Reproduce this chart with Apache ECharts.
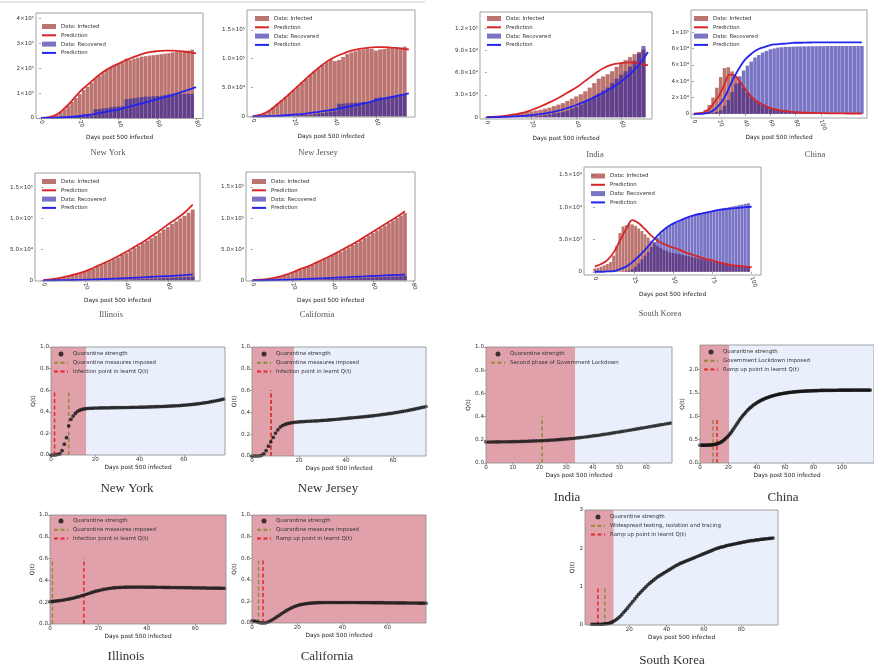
<!DOCTYPE html>
<html>
<head>
<meta charset="utf-8">
<script src="https://cdn.jsdelivr.net/npm/echarts@6/dist/echarts.min.js"></script>
<style>
html, body { margin: 0; background: #fff; }
#chart { width: 874px; height: 670px; }
</style>
</head>
<body>
<div id="chart"></div>
<script>
// ---- case data (thousands of people), bars every barStep days, predictions every predStep days ----
const predStep = 4

const nyInfected = [0.5, 2, 4, 8, 15, 24, 35, 50, 65, 80, 96, 112, 125, 142, 160, 170, 182, 192, 203, 212, 216, 222, 238, 232, 238, 242, 246, 248, 250, 252, 254, 256, 258, 260, 263, 265, 266, 268, 270, 274]
const nyRecovered = [0, 0, 0, 0, 0.5, 1, 1.5, 2, 3, 4, 5, 6, 8, 10, 35, 36, 38, 40, 43, 45, 46, 47, 75, 77, 80, 82, 84, 86, 86, 87, 88, 89, 92, 95, 96, 96, 97, 97, 97, 97]
const nyPredInfected = [0.5, 3, 14, 38, 70, 105, 133, 160, 184, 203, 218, 232, 245, 256, 264, 268, 270, 270, 268, 264, 259]
const nyPredRecovered = [0, 0.4, 1.5, 3, 5, 8, 12, 17, 23, 29, 35, 43, 51, 59, 67, 76, 84, 93, 103, 113, 124]

const njInfected = [0.5, 1, 2, 5, 10, 16, 22, 28, 34, 40, 46, 52, 59, 65, 72, 78, 83, 89, 94, 99, 96, 98, 103, 108, 111, 113, 115, 116, 117, 117, 114, 116, 117, 118, 118, 118, 119, 121]
const njRecovered = [0, 0, 0, 0, 0, 0, 0.2, 0.3, 0.5, 0.8, 1, 1.5, 2, 2.5, 3, 4, 5, 6, 7, 8, 9, 22, 22, 23, 23, 24, 24, 25, 25, 26, 32, 33, 33, 34, 35, 36, 37, 38]
const njPredInfected = [0.5, 3, 10, 21, 33, 46, 59, 72, 84, 95, 103, 109, 114, 117, 119, 120, 120, 119, 118, 116]
const njPredRecovered = [0, 0.2, 0.5, 1, 2, 3, 4, 6, 8, 10, 12, 15, 18, 21, 24, 28, 31, 34, 37, 40]

const ilInfected = [0.3, 0.8, 1.5, 2.5, 3.5, 5, 6.5, 8, 10, 12, 14, 16.5, 19, 22, 25, 28, 31, 34, 37, 41, 44, 48, 52, 56, 60, 64, 68, 72, 77, 82, 86, 91, 95, 100, 104, 109, 114]
const ilRecovered = [0, 0, 0, 0, 0, 0, 0.1, 0.1, 0.2, 0.2, 0.3, 0.3, 0.4, 0.5, 0.6, 0.7, 0.8, 0.9, 1, 1.2, 1.4, 1.6, 1.8, 2, 2.2, 2.5, 2.8, 3, 3.3, 3.6, 4, 4.3, 4.6, 5, 5.3, 5.6, 6]
const ilPredInfected = [0.3, 1.8, 4, 7, 10.5, 14.5, 20, 26, 32, 39, 46, 54, 62, 71, 80, 90, 99, 109, 122]
const ilPredRecovered = [0, 0.1, 0.3, 0.5, 0.8, 1.1, 1.5, 2, 2.5, 3, 3.6, 4.2, 4.9, 5.6, 6.3, 7, 7.8, 8.6, 9.5]

const caInfected = [0.3, 0.6, 1, 1.6, 2.4, 3.3, 4.5, 6, 8, 10, 12.5, 15, 17.5, 20, 22.5, 25, 28, 31, 34, 37, 40, 43, 46, 50, 53, 57, 60, 64, 68, 72, 76, 80, 84, 88, 92, 96, 100, 104, 108]
const caRecovered = [0, 0, 0, 0, 0, 0, 0.1, 0.1, 0.2, 0.3, 0.4, 0.5, 0.6, 0.7, 0.8, 1, 1.2, 1.4, 1.6, 1.8, 2, 2.2, 2.4, 2.6, 2.8, 3, 3.3, 3.6, 3.9, 4.2, 4.5, 4.8, 5.1, 5.4, 5.7, 6, 6.3, 6.6, 7]
const caPredInfected = [0.3, 1, 2.5, 5, 8.5, 13, 18.5, 23, 29, 35, 41, 48, 55, 62, 70, 78, 86, 94, 102, 111]
const caPredRecovered = [0, 0.1, 0.3, 0.6, 1, 1.4, 1.9, 2.4, 2.9, 3.4, 4, 4.6, 5.2, 5.8, 6.4, 7, 7.6, 8.2, 8.8, 9.4]

const indiaInfected = [0.5, 0.8, 1.2, 1.6, 2.2, 3, 4, 5, 6, 7, 8, 9, 10, 11.5, 13, 15, 17, 19, 22, 25, 28, 31, 35, 40, 46, 52, 55, 58, 62, 68, 73, 77, 81, 85, 88, 91]
const indiaRecovered = [0, 0, 0, 0, 0.1, 0.2, 0.3, 0.5, 0.7, 0.9, 1.1, 1.5, 2, 2.8, 3.8, 5, 6, 7.5, 9, 11.5, 14, 17, 21, 25, 28, 32, 36, 40, 46, 52, 57, 62, 68, 76, 86, 96]
const indiaPredInfected = [0.5, 1, 2, 3.8, 6, 9.8, 14.5, 20, 26, 33, 40, 49, 58, 66, 71, 73, 74, 72.5, 70]
const indiaPredRecovered = [0, 0.2, 0.6, 1.1, 1.8, 2.8, 4.2, 6.2, 9, 12.5, 16.5, 21.5, 27, 33, 40, 48, 58, 71, 88]

const chinaInfected = [0.5, 1.2, 2.5, 5, 11, 20, 32, 45, 56, 57, 52, 45, 38, 32, 26, 21, 17, 14, 11, 9, 7.5, 6.5, 5.5, 4.5, 4, 3.5, 3, 2.5, 2, 1.5, 1.2, 1, 0.9, 0.8, 0.7, 0.6, 0.5, 0.4, 0.3, 0.3, 0.2, 0.2, 0.2, 0.1, 0.1]
const chinaRecovered = [0, 0, 0.1, 0.3, 0.6, 1.2, 2.5, 4.5, 10, 17, 27, 37, 46, 53, 59, 64, 69, 72, 75, 77, 79, 80, 81, 81.5, 82, 82, 82.2, 82.4, 82.5, 82.6, 82.7, 82.8, 82.8, 82.9, 82.9, 83, 83, 83, 83, 83, 83, 83, 83, 83, 83]
const chinaPredInfected = [0.3, 0.8, 2, 6, 14, 23, 36, 48, 47, 40, 31, 23, 17, 13, 10, 7, 5.5, 4.3, 3.3, 2.6, 2.1, 1.7, 1.4, 1.2, 1, 0.9, 0.8, 0.7, 0.6, 0.6, 0.5, 0.5, 0.5, 0.5]
const chinaPredRecovered = [0, 0.1, 0.4, 1.5, 5, 11, 20, 33, 46, 57, 66, 72, 77, 80, 82, 84, 85, 85.5, 86, 86.5, 87, 87, 87.2, 87.3, 87.4, 87.4, 87.5, 87.5, 87.5, 87.5, 87.5, 87.5, 87.5, 87.5]

const skInfected = [0.5, 0.6, 0.8, 1, 1.2, 1.5, 2.5, 4, 6, 7, 7.2, 7.4, 7.3, 7.1, 6.7, 6.3, 5.8, 5.3, 4.8, 4.4, 4, 3.7, 3.4, 3.2, 3, 2.9, 2.8, 2.7, 2.6, 2.5, 2.4, 2.3, 2.2, 2.1, 2, 1.9, 1.8, 1.7, 1.6, 1.5, 1.4, 1.3, 1.2, 1.1, 1.1, 1, 1, 0.9, 0.9, 0.8]
const skRecovered = [0, 0, 0, 0, 0, 0, 0, 0, 0, 0.02, 0.1, 0.2, 0.4, 0.8, 1.3, 1.9, 2.5, 3.1, 3.8, 4.6, 5.3, 5.9, 6.4, 6.8, 7.1, 7.4, 7.6, 7.8, 8, 8.2, 8.4, 8.6, 8.8, 8.9, 9.1, 9.2, 9.3, 9.4, 9.5, 9.6, 9.7, 9.8, 9.9, 10, 10.1, 10.2, 10.3, 10.4, 10.5, 10.6]
const skPredInfected = [0.8, 1.2, 1.8, 3, 4.8, 6.6, 8, 7.5, 6.6, 5.6, 4.8, 4.3, 3.9, 3.6, 3.2, 2.8, 2.5, 2.2, 1.9, 1.7, 1.4, 1.2, 1, 0.9, 0.8, 0.7]
const skPredRecovered = [0, 0, 0.05, 0.1, 0.4, 0.8, 1.5, 2.4, 3.4, 4.5, 5.6, 6.5, 7.2, 7.7, 8.1, 8.5, 8.8, 9, 9.2, 9.4, 9.6, 9.7, 9.8, 9.9, 10, 10.05]

// tick values / labels of the case panels
const ticks20to80 = [0, 20, 40, 60, 80]
const ticks20to60 = [0, 20, 40, 60]
const chinaXTicks = [0, 20, 40, 60, 80, 100]
const skXTicks = [0, 25, 50, 75, 100]
const nyYTicks = [0, 100, 200, 300, 400]
const nyYLabels = ['0', '1×10⁵', '2×10⁵', '3×10⁵', '4×10⁵']
const usYTicks = [0, 50, 100, 150]
const usYLabels = ['0', '5.0×10⁴', '1.0×10⁵', '1.5×10⁵']
const indiaYTicks = [0, 30, 60, 90, 120]
const indiaYLabels = ['0', '3.0×10⁴', '6.0×10⁴', '9.0×10⁴', '1.2×10⁵']
const chinaYTicks = [0, 20, 40, 60, 80, 100]
const chinaYLabels = ['0', '2×10⁴', '4×10⁴', '6×10⁴', '8×10⁴', '1×10⁵']
const skYTicks = [0, 5, 10, 15]
const skYLabels = ['0', '5.0×10³', '1.0×10⁴', '1.5×10⁴']

// ---- learnt quarantine strength Q(t), one value per day ----
const nyQ = [0, 0, 0, 0.005, 0.01, 0.04, 0.1, 0.16, 0.27, 0.33,
  0.36, 0.385, 0.405, 0.415, 0.422, 0.427, 0.43, 0.432, 0.433, 0.434,
  0.435, 0.435, 0.436, 0.436, 0.437, 0.437, 0.437, 0.438, 0.438, 0.438,
  0.439, 0.439, 0.439, 0.44, 0.44, 0.44, 0.441, 0.441, 0.442, 0.442,
  0.443, 0.443, 0.444, 0.444, 0.445, 0.445, 0.446, 0.447, 0.447, 0.448,
  0.449, 0.45, 0.451, 0.452, 0.453, 0.454, 0.455, 0.456, 0.458, 0.459,
  0.461, 0.463, 0.465, 0.467, 0.469, 0.471, 0.474, 0.476, 0.479, 0.482,
  0.485, 0.488, 0.492, 0.496, 0.5, 0.504, 0.508, 0.513, 0.518]
const njQ = [0, 0, 0, 0, 0.005, 0.02, 0.05, 0.09, 0.13, 0.17,
  0.21, 0.24, 0.265, 0.28, 0.29, 0.297, 0.302, 0.306, 0.309, 0.311,
  0.313, 0.315, 0.316, 0.318, 0.319, 0.32, 0.321, 0.322, 0.323, 0.325,
  0.326, 0.328, 0.329, 0.331, 0.333, 0.335, 0.337, 0.339, 0.341, 0.343,
  0.345, 0.347, 0.349, 0.351, 0.353, 0.355, 0.357, 0.359, 0.361, 0.363,
  0.366, 0.368, 0.371, 0.374, 0.376, 0.379, 0.382, 0.385, 0.388, 0.391,
  0.394, 0.398, 0.401, 0.405, 0.409, 0.413, 0.417, 0.421, 0.425, 0.43,
  0.434, 0.439, 0.444, 0.449, 0.454]
const ilQ = [0.205, 0.207, 0.209, 0.212, 0.215, 0.218, 0.222, 0.226, 0.23, 0.235,
  0.24, 0.246, 0.252, 0.259, 0.266, 0.273, 0.28, 0.287, 0.294, 0.301,
  0.307, 0.312, 0.317, 0.321, 0.325, 0.328, 0.331, 0.333, 0.335, 0.336,
  0.337, 0.338, 0.338, 0.339, 0.339, 0.339, 0.339, 0.339, 0.339, 0.339,
  0.338, 0.338, 0.338, 0.338, 0.337, 0.337, 0.337, 0.336, 0.336, 0.336,
  0.335, 0.335, 0.335, 0.334, 0.334, 0.334, 0.333, 0.333, 0.333, 0.332,
  0.332, 0.332, 0.331, 0.331, 0.331, 0.33, 0.33, 0.33, 0.329, 0.329,
  0.329, 0.328, 0.328]
const caQ = [0.02, 0.018, 0.012, 0.005, 0.001, 0, 0.002, 0.008, 0.018, 0.03,
  0.043, 0.057, 0.071, 0.085, 0.099, 0.112, 0.124, 0.135, 0.145, 0.154,
  0.161, 0.167, 0.172, 0.176, 0.179, 0.182, 0.184, 0.186, 0.187, 0.188,
  0.189, 0.189, 0.19, 0.19, 0.19, 0.19, 0.19, 0.19, 0.19, 0.19,
  0.19, 0.19, 0.19, 0.19, 0.19, 0.19, 0.19, 0.189, 0.189, 0.189,
  0.189, 0.189, 0.189, 0.188, 0.188, 0.188, 0.188, 0.188, 0.188, 0.187,
  0.187, 0.187, 0.187, 0.187, 0.186, 0.186, 0.186, 0.186, 0.186, 0.185,
  0.185, 0.185, 0.185, 0.185, 0.184, 0.184, 0.184, 0.184]
const indiaQ = [0.181, 0.181, 0.181, 0.182, 0.182, 0.182, 0.183, 0.183, 0.183, 0.184,
  0.184, 0.185, 0.185, 0.186, 0.187, 0.187, 0.188, 0.189, 0.19, 0.191,
  0.192, 0.193, 0.194, 0.195, 0.197, 0.198, 0.2, 0.201, 0.203, 0.205,
  0.207, 0.209, 0.211, 0.213, 0.216, 0.218, 0.221, 0.224, 0.227, 0.23,
  0.233, 0.236, 0.239, 0.243, 0.246, 0.25, 0.253, 0.257, 0.261, 0.265,
  0.268, 0.272, 0.276, 0.28, 0.284, 0.288, 0.292, 0.296, 0.3, 0.304,
  0.308, 0.312, 0.316, 0.32, 0.324, 0.328, 0.332, 0.336, 0.34, 0.344]
const chinaQ = [0.38, 0.38, 0.38, 0.381, 0.381, 0.382, 0.383, 0.385, 0.387, 0.39,
  0.395, 0.402, 0.41, 0.42, 0.434, 0.45, 0.47, 0.495, 0.52, 0.55,
  0.58, 0.615, 0.655, 0.7, 0.745, 0.79, 0.835, 0.88, 0.925, 0.965,
  1.005, 1.04, 1.075, 1.11, 1.14, 1.17, 1.195, 1.22, 1.245, 1.265,
  1.285, 1.305, 1.32, 1.338, 1.352, 1.366, 1.38, 1.392, 1.403, 1.414,
  1.424, 1.433, 1.442, 1.45, 1.458, 1.465, 1.472, 1.478, 1.484, 1.489,
  1.494, 1.499, 1.503, 1.507, 1.511, 1.514, 1.517, 1.52, 1.523, 1.526,
  1.528, 1.53, 1.532, 1.534, 1.536, 1.538, 1.539, 1.541, 1.542, 1.543,
  1.544, 1.545, 1.546, 1.547, 1.548, 1.549, 1.549, 1.55, 1.551, 1.551,
  1.552, 1.552, 1.553, 1.553, 1.553, 1.554, 1.554, 1.554, 1.555, 1.555,
  1.555, 1.555, 1.556, 1.556, 1.556, 1.556, 1.556, 1.557, 1.557, 1.557,
  1.557, 1.557, 1.557, 1.557, 1.558, 1.558, 1.558, 1.558, 1.558, 1.558, 1.558]
const skQ = [0.02, 0.02, 0.02, 0.02, 0.02, 0.02, 0.025, 0.03, 0.035, 0.045,
  0.06, 0.08, 0.11, 0.14, 0.18, 0.22, 0.27, 0.33, 0.38, 0.44,
  0.5, 0.56, 0.62, 0.68, 0.74, 0.8, 0.85, 0.9, 0.95, 1.0,
  1.05, 1.09, 1.13, 1.17, 1.21, 1.25, 1.28, 1.31, 1.34, 1.37,
  1.4, 1.43, 1.46, 1.49, 1.52, 1.55, 1.57, 1.6, 1.62, 1.64,
  1.66, 1.68, 1.7, 1.72, 1.74, 1.76, 1.78, 1.8, 1.82, 1.84,
  1.86, 1.88, 1.9, 1.92, 1.94, 1.96, 1.98, 2.0, 2.01, 2.03,
  2.04, 2.05, 2.07, 2.08, 2.09, 2.1, 2.11, 2.12, 2.13, 2.14,
  2.15, 2.16, 2.17, 2.18, 2.19, 2.2, 2.2, 2.21, 2.22, 2.22,
  2.23, 2.24, 2.24, 2.25, 2.25, 2.26, 2.26, 2.27]

// days of the marked events and where the first (shaded) phase ends
const qMeasureDays = [8, 8.1, 1, 2.9, 21, 9.2, 6.9]
const qInflectionDays = [1.6, 8.1, 14, 4.9, null, 12, 3.2]
const qMarkTops = [0.6, 0.6, 0.6, 0.6, 0.4, 0.96, 1.0]
const qPhaseEnds = [16, 18, 80, 80, 33.3, 20.7, 11.7]
const qYTicks = [0, 0.2, 0.4, 0.6, 0.8, 1.0]
const qYLabels = ['0.0', '0.2', '0.4', '0.6', '0.8', '1.0']
const chinaQYTicks = [0, 0.5, 1, 1.5, 2]
const chinaQYLabels = ['0.0', '0.5', '1.0', '1.5', '2.0']
const skQYTicks = [0, 1, 2, 3]
const skQYLabels = ['0', '1', '2', '3']
const indiaQXTicks = [0, 10, 20, 30, 40, 50, 60]
const skQXTicks = [20, 40, 60, 80]

const dataPanels = [
    {title: 'New York', infected: nyInfected, recovered: nyRecovered, predI: nyPredInfected, predR: nyPredRecovered, barStep: 2, xTicks: ticks20to80, yTicks: nyYTicks, yLabels: nyYLabels},
    {title: 'New Jersey', infected: njInfected, recovered: njRecovered, predI: njPredInfected, predR: njPredRecovered, barStep: 2, xTicks: ticks20to60, yTicks: usYTicks, yLabels: usYLabels},
    {title: 'Illinois', infected: ilInfected, recovered: ilRecovered, predI: ilPredInfected, predR: ilPredRecovered, barStep: 2, xTicks: ticks20to60, yTicks: usYTicks, yLabels: usYLabels},
    {title: 'California', infected: caInfected, recovered: caRecovered, predI: caPredInfected, predR: caPredRecovered, barStep: 2, xTicks: ticks20to80, yTicks: usYTicks, yLabels: usYLabels},
    {title: 'India', infected: indiaInfected, recovered: indiaRecovered, predI: indiaPredInfected, predR: indiaPredRecovered, barStep: 2, xTicks: ticks20to60, yTicks: indiaYTicks, yLabels: indiaYLabels},
    {title: 'China', infected: chinaInfected, recovered: chinaRecovered, predI: chinaPredInfected, predR: chinaPredRecovered, barStep: 3, xTicks: chinaXTicks, yTicks: chinaYTicks, yLabels: chinaYLabels},
    {title: 'South Korea', infected: skInfected, recovered: skRecovered, predI: skPredInfected, predR: skPredRecovered, barStep: 2, xTicks: skXTicks, yTicks: skYTicks, yLabels: skYLabels}
]
const measureNames = ['Quarantine measures imposed', 'Quarantine measures imposed', 'Quarantine measures imposed', 'Quarantine measures imposed',
    'Second phase of Government Lockdown', 'Government Lockdown imposed', 'Widespread testing, isolation and tracing']
const pointNames = ['Infection point in learnt Q(t)', 'Infection point in learnt Q(t)', 'Infection point in learnt Q(t)', 'Ramp up point in learnt Q(t)',
    null, 'Ramp up point in learnt Q(t)', 'Ramp up point in learnt Q(t)']
const qPanels = [
    {title: 'New York', q: nyQ, xTicks: ticks20to60, yTicks: qYTicks, yLabels: qYLabels},
    {title: 'New Jersey', q: njQ, xTicks: ticks20to60, yTicks: qYTicks, yLabels: qYLabels},
    {title: 'Illinois', q: ilQ, xTicks: ticks20to60, yTicks: qYTicks, yLabels: qYLabels},
    {title: 'California', q: caQ, xTicks: ticks20to60, yTicks: qYTicks, yLabels: qYLabels},
    {title: 'India', q: indiaQ, xTicks: indiaQXTicks, yTicks: qYTicks, yLabels: qYLabels},
    {title: 'China', q: chinaQ, xTicks: chinaXTicks, yTicks: chinaQYTicks, yLabels: chinaQYLabels},
    {title: 'South Korea', q: skQ, xTicks: skQXTicks, yTicks: skQYTicks, yLabels: skQYLabels}
]

// ---- layout (pixels) and axis extents ----
const dataLayout = [
    {left: 36, top: 13, width: 167, height: 105.5, xMin: -2.6, xMax: 83.6, yMin: -2, yMax: 421, lgLeft: 41, lgTop: 23.5, tx: 108, ty: 153},
    {left: 247, top: 10, width: 168, height: 107, xMin: -2.8, xMax: 79, yMin: -1, yMax: 184.5, lgLeft: 254, lgTop: 15.5, tx: 318, ty: 153},
    {left: 35, top: 173, width: 165, height: 108, xMin: -4, xMax: 75.5, yMin: -1, yMax: 173, lgLeft: 41, lgTop: 178.5, tx: 111, ty: 315},
    {left: 246, top: 172, width: 169, height: 109, xMin: -3.3, xMax: 81, yMin: -1, yMax: 174, lgLeft: 251, lgTop: 178.5, tx: 317, ty: 315},
    {left: 480, top: 12, width: 172, height: 107, xMin: -3, xMax: 73.8, yMin: -2.3, yMax: 141.7, lgLeft: 486, lgTop: 15.5, tx: 595, ty: 155},
    {left: 691, top: 10, width: 176, height: 108, xMin: -2.3, xMax: 136, yMin: -5, yMax: 127, lgLeft: 693, lgTop: 15.5, tx: 815, ty: 155},
    {left: 584, top: 167, width: 177, height: 108, xMin: -6.9, xMax: 106, yMin: -0.5, yMax: 16.2, lgLeft: 590, lgTop: 173, tx: 660, ty: 314}
]
const qLayout = [
    {left: 51, top: 347, width: 174, height: 108, xMin: 0, xMax: 78.6, yMin: 0, yMax: 1, lgLeft: 53, lgTop: 351, tx: 127, ty: 489},
    {left: 252, top: 347, width: 174, height: 109, xMin: 0, xMax: 74, yMin: 0, yMax: 1, lgLeft: 256, lgTop: 351, tx: 328, ty: 489},
    {left: 50, top: 515, width: 176, height: 109, xMin: 0, xMax: 72.7, yMin: 0, yMax: 1, lgLeft: 53, lgTop: 518, tx: 126, ty: 657},
    {left: 252, top: 515, width: 174, height: 108, xMin: 0, xMax: 77, yMin: 0, yMax: 1, lgLeft: 256, lgTop: 518, tx: 327, ty: 657},
    {left: 486, top: 347, width: 186, height: 116, xMin: 0, xMax: 69.6, yMin: 0, yMax: 1, lgLeft: 490, lgTop: 351, tx: 567, ty: 498},
    {left: 700, top: 345, width: 178, height: 118, xMin: 0, xMax: 122.7, yMin: 0, yMax: 2.52, lgLeft: 703, lgTop: 349, tx: 783, ty: 498},
    {left: 585, top: 510, width: 193, height: 115, xMin: -3.7, xMax: 99.7, yMin: 0, yMax: 3, lgLeft: 590, lgTop: 514, tx: 672, ty: 661}
]

const sans = 'DejaVu Sans'
const serif = 'Liberation Serif'
const infectedBar = 'rgba(145,30,25,0.62)'
const recoveredBar = 'rgba(40,30,160,0.62)'
const redLine = '#d62728'
const blueLine = '#2424f0'
const shadeRed = '#e0a1ab'
const shadeBlue = '#e9f0fb'
const olive = '#8f8a3c'
const redDash = '#e8262c'

const grids = []
const xAxes = []
const yAxes = []
const series = []
const legends = []
const graphics = [
    {type: 'line', shape: {x1: 0, y1: 2, x2: 425, y2: 2}, style: {stroke: '#c8c8c8', lineWidth: 1}}
]
const tickText = {fontFamily: sans, fontSize: 5.6, color: '#333'}
const nameText = {fontFamily: sans, fontSize: 5.8, color: '#222'}
// legend entries for line series: hide the marker that echarts puts on the line icon
const noMarker = {color: 'transparent', opacity: 0, borderWidth: 0}

function addAxes (L, xTicks, yTicks, yLabels, opt) {
    const g = grids.length
    grids.push({left: L.left, top: L.top, width: L.width, height: L.height, show: true, z: 10,
        backgroundColor: 'transparent', borderColor: '#8a8a8a', borderWidth: 0.8})
    xAxes.push({
        type: 'value', gridIndex: g, min: L.xMin, max: L.xMax,
        axisLine: {show: false}, splitLine: {show: false},
        axisTick: {show: true, length: 2, customValues: xTicks, lineStyle: {color: '#666', width: 0.6}},
        axisLabel: Object.assign({customValues: xTicks, rotate: opt.rotate || 0, margin: 2}, tickText),
        name: 'Days post 500 infected', nameLocation: 'middle', nameGap: opt.nameGap, nameTextStyle: nameText
    })
    yAxes.push({
        type: 'value', gridIndex: g, min: L.yMin, max: L.yMax,
        axisLine: {show: false}, splitLine: {show: false},
        axisTick: {show: true, length: 2, customValues: yTicks, lineStyle: {color: '#666', width: 0.6}},
        axisLabel: Object.assign({customValues: yTicks, margin: 2, formatter: function (v) {
            const k = yTicks.indexOf(v)
            return k >= 0 ? yLabels[k] : ''
        }}, tickText),
        name: opt.yName || '', nameLocation: 'middle', nameGap: opt.yNameGap || 10, nameTextStyle: nameText
    })
    return g
}

function addTitle (L, text, size, color) {
    graphics.push({type: 'text', x: L.tx, y: L.ty, style: {text: text, fill: color,
        font: size + 'px "' + serif + '"', align: 'center', verticalAlign: 'middle'}})
}

const legendBase = {orient: 'vertical', itemWidth: 14, itemHeight: 5, itemGap: 2.8, padding: 0,
    selectedMode: false, textStyle: {fontFamily: sans, fontSize: 5.4, color: '#333', lineHeight: 6}}

// case panels: bars of data, smooth prediction lines
dataPanels.forEach(function (p, i) {
    const L = dataLayout[i]
    const g = addAxes(L, p.xTicks, p.yTicks, p.yLabels, {rotate: -70, nameGap: 16})
    const slot = p.barStep * L.width / (L.xMax - L.xMin)
    const bar = {type: 'bar', xAxisIndex: g, yAxisIndex: g, barWidth: slot - 0.3, barGap: '-100%', silent: true}
    series.push(Object.assign({}, bar, {name: 'Data: Infected', z: 2, itemStyle: {color: infectedBar},
        data: p.infected.map(function (v, k) { return [k * p.barStep, v] })}))
    series.push(Object.assign({}, bar, {name: 'Data: Recovered', z: 3, itemStyle: {color: recoveredBar},
        data: p.recovered.map(function (v, k) { return [k * p.barStep, v] })}))
    series.push({type: 'line', name: 'Prediction', xAxisIndex: g, yAxisIndex: g, smooth: 0.4, symbol: 'none', z: 4,
        lineStyle: {color: redLine, width: 1.8}, itemStyle: {color: redLine},
        data: p.predI.map(function (v, k) { return [k * predStep, v] })})
    series.push({type: 'line', name: 'Prediction ', xAxisIndex: g, yAxisIndex: g, smooth: 0.4, symbol: 'none', z: 4,
        lineStyle: {color: blueLine, width: 1.8}, itemStyle: {color: blueLine},
        data: p.predR.map(function (v, k) { return [k * predStep, v] })})
    legends.push(Object.assign({}, legendBase, {left: L.lgLeft, top: L.lgTop,
        data: [{name: 'Data: Infected', icon: 'rect'}, {name: 'Prediction', itemStyle: noMarker},
            {name: 'Data: Recovered', icon: 'rect'}, {name: 'Prediction ', itemStyle: noMarker}]}))
    addTitle(L, p.title, 8.5, '#555')
})

// quarantine strength panels
qPanels.forEach(function (p, i) {
    const L = qLayout[i]
    const g = addAxes(L, p.xTicks, p.yTicks, p.yLabels, {nameGap: 9, yName: 'Q(t)', yNameGap: 9})
    const end = Math.min(qPhaseEnds[i], L.xMax)
    const areas = [[{xAxis: L.xMin, itemStyle: {color: shadeRed}}, {xAxis: end}]]
    if (end < L.xMax) areas.push([{xAxis: end, itemStyle: {color: shadeBlue}}, {xAxis: L.xMax}])
    const legendData = [{name: 'Quarantine strength', icon: 'circle'}, {name: measureNames[i], itemStyle: noMarker}]
    series.push({type: 'line', name: measureNames[i], xAxisIndex: g, yAxisIndex: g, symbol: 'none', z: 3,
        lineStyle: {color: olive, width: 1.5, type: [4, 2.5]}, itemStyle: {color: olive},
        data: [[qMeasureDays[i], 0], [qMeasureDays[i], qMarkTops[i]]]})
    if (pointNames[i]) {
        series.push({type: 'line', name: pointNames[i], xAxisIndex: g, yAxisIndex: g, symbol: 'none', z: 4,
            lineStyle: {color: redDash, width: 1.5, type: [4, 2.5]}, itemStyle: {color: redDash},
            data: [[qInflectionDays[i], 0], [qInflectionDays[i], qMarkTops[i]]]})
        legendData.push({name: pointNames[i], itemStyle: noMarker})
    }
    series.push({type: 'scatter', name: 'Quarantine strength', xAxisIndex: g, yAxisIndex: g, symbolSize: 3.7, z: 5,
        itemStyle: {color: '#111'}, data: p.q.map(function (v, k) { return [k, v] }),
        markArea: {silent: true, data: areas}})
    legends.push(Object.assign({}, legendBase, {left: L.lgLeft, top: L.lgTop, data: legendData}))
    addTitle(L, p.title, 13, '#333')
})

const chart = echarts.init(document.getElementById('chart'))
chart.setOption({
    animation: false,
    backgroundColor: '#fff',
    grid: grids,
    xAxis: xAxes,
    yAxis: yAxes,
    legend: legends,
    series: series,
    graphic: graphics
})
</script>
</body>
</html>
